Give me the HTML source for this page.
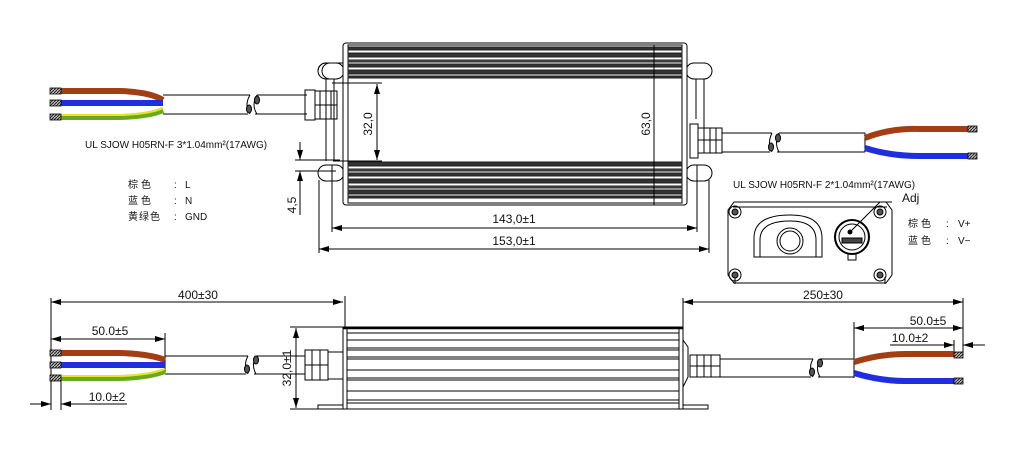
<!DOCTYPE html>
<html><head><meta charset="utf-8"><style>
html,body{margin:0;padding:0;background:#fff;}
svg{display:block;}
text{font-family:"Liberation Sans","Noto Sans CJK SC",sans-serif;fill:#111;}
.cn{font-family:"Noto Sans CJK SC","WenQuanYi Zen Hei",sans-serif;}
</style></head><body>
<svg width="1018" height="457" viewBox="0 0 1018 457" xmlns="http://www.w3.org/2000/svg">
<defs>
<pattern id="hatch" width="3" height="3" patternUnits="userSpaceOnUse"><rect width="3" height="3" fill="#bbb"/><path d="M0 3L3 0" stroke="#222" stroke-width="1"/></pattern>
<marker id="a" viewBox="0 0 10 6" refX="10" refY="3" markerWidth="10" markerHeight="6" orient="auto-start-reverse" markerUnits="userSpaceOnUse"><path d="M0 0L10 3L0 6z" fill="#000"/></marker>
</defs>
<g stroke="#000" fill="none" stroke-width="1">

<!-- ===== TOP VIEW BODY ===== -->
<path d="M330 63 h13 M330 63 a8 8 0 0 0 0 16 M330 79 v0 M318 71 a8 8 0 0 1 8 -8" />
<rect x="318" y="63" width="26" height="16" rx="8"/>
<rect x="318" y="165" width="26" height="16" rx="8"/>
<path d="M326 79 v82 M334 79 v82"/>
<rect x="686" y="63" width="26" height="16" rx="8"/>
<rect x="686" y="165" width="26" height="16" rx="8"/>
<path d="M704 79 v70 M696 79 v40"/>
<rect x="343" y="43" width="344" height="162" rx="3" fill="#fff"/>
<rect x="348" y="45" width="334" height="158"/>
<!-- fins top -->
<g stroke="#222">
<rect x="348" y="47" width="334" height="3" fill="#333"/>
<rect x="348" y="53" width="334" height="4" fill="#333"/>
<rect x="348" y="60" width="334" height="2" fill="#555"/>
<rect x="348" y="64" width="334" height="3" fill="#333"/>
<rect x="348" y="70" width="334" height="4" fill="#333"/>
<rect x="348" y="76" width="334" height="2" fill="#333"/>
<rect x="348" y="162" width="334" height="4" fill="#333"/>
<rect x="348" y="169" width="334" height="2" fill="#555"/>
<rect x="348" y="173" width="334" height="3" fill="#333"/>
<rect x="348" y="179" width="334" height="4" fill="#333"/>
<rect x="348" y="186" width="334" height="2" fill="#555"/>
<rect x="348" y="190" width="334" height="4" fill="#333"/>
<rect x="348" y="196" width="334" height="2" fill="#333"/>
</g>
<path d="M654 45 v160"/>
<!-- 32,0 dim -->
<path d="M332 83 H382 M333 161 H382"/>
<path d="M377 84 V160" marker-start="url(#a)" marker-end="url(#a)"/>
<!-- 4,5 dim -->
<path d="M295 160 H340 M295 171 H336"/>
<path d="M300 142 V160" marker-end="url(#a)"/>
<path d="M300 189 V171" marker-end="url(#a)"/>
<path d="M300 171 V215"/>
<!-- 143 / 153 -->
<path d="M332 165 V232 M697 165 V232 M319 180 V253 M709 180 V253"/>
<path d="M332 228 H697" marker-start="url(#a)" marker-end="url(#a)"/>
<path d="M319 249 H709" marker-start="url(#a)" marker-end="url(#a)"/>

<!-- left top cable -->
<path d="M163 95 H250 M257 95 H307 M163 114 H248 M255 114 H307"/>
<path d="M250 95 q-6 10 0 19 M257 95 q-6 10 0 19"/>
<ellipse cx="249" cy="109" rx="2.5" ry="4" fill="#555"/>
<ellipse cx="257" cy="100" rx="2.5" ry="4" fill="#555"/>
<rect x="305" y="90" width="10" height="30"/>
<rect x="315" y="91" width="22" height="28"/>
<path d="M320 91 v28 M326 91 v28 M331 91 v28 M315 105 h22"/>
<!-- right top cable/gland -->
<rect x="690" y="124" width="8" height="34"/>
<rect x="698" y="128" width="24" height="25"/>
<path d="M704 128 v25 M710 128 v25 M716 128 v25 M698 140 h24"/>
<path d="M722 133 H772 M779 133 H865 M722 152 H770 M777 152 H865 M865 133 V152"/>
<path d="M772 133 q-5 10 0 19 M779 133 q-5 10 0 19"/>
<ellipse cx="771" cy="147" rx="2.5" ry="4" fill="#555"/>
<ellipse cx="778" cy="138" rx="2.5" ry="4" fill="#555"/>
</g>

<!-- top wires -->
<g fill="none" stroke-linecap="butt">
<path d="M61 91 H120 Q150 92 163 100" stroke="#a33d14" stroke-width="6"/>
<path d="M61 103 H163" stroke="#1f2fe0" stroke-width="6"/>
<path d="M61 117 H120 Q150 116 163 110" stroke="#6aaa22" stroke-width="6"/>
<path d="M61 115 H120 Q150 114 163 108" stroke="#e8e820" stroke-width="2"/>
<path d="M865 138 Q890 128 920 129 H968" stroke="#a33d14" stroke-width="6"/>
<path d="M865 148 Q890 156 920 156 H968" stroke="#1f2fe0" stroke-width="6"/>
</g>
<g stroke="#000" stroke-width="0.8">
<rect x="50" y="88" width="11" height="6" fill="url(#hatch)"/>
<rect x="50" y="100" width="11" height="6" fill="url(#hatch)"/>
<rect x="50" y="114" width="11" height="6" fill="url(#hatch)"/>
<rect x="968" y="126" width="9" height="6" fill="url(#hatch)"/>
<rect x="968" y="153" width="9" height="6" fill="url(#hatch)"/>
</g>

<!-- end view box -->
<g stroke="#000" fill="none" stroke-width="1">
<path d="M734 202 H886 L892 210 V275 L886 283 H734 L728 275 V210 Z"/>
<path d="M733 207 H887 M735 284 V277 M885 284 V277"/>
<circle cx="735" cy="212" r="6"/><circle cx="735" cy="212" r="3" fill="#555"/>
<circle cx="880" cy="212" r="6"/><circle cx="880" cy="212" r="3" fill="#555"/>
<circle cx="735" cy="275" r="6"/><circle cx="735" cy="275" r="3" fill="#555"/>
<circle cx="880" cy="275" r="6"/><circle cx="880" cy="275" r="3" fill="#555"/>
<path d="M754 257 V238 Q754 215 790 215 Q822 215 822 238 V257 Z"/>
<path d="M760 257 V240 Q760 221 790 221 Q816 221 816 240 V257"/>
<circle cx="790" cy="241" r="13"/><circle cx="790" cy="241" r="10"/>
<circle cx="852" cy="237" r="17" stroke-width="2"/><circle cx="852" cy="237" r="13"/>
<rect x="842" y="238" width="20" height="5" fill="#444"/>
<circle cx="850" cy="232" r="2" fill="#000"/>
<path d="M848 254 h8 v6 h-8 z"/>
<path d="M850 232 L880 202 H892"/>
</g>

<!-- ===== BOTTOM VIEW ===== -->
<g stroke="#000" fill="none" stroke-width="1">
<rect x="343" y="327" width="340" height="82" fill="#fff"/>
<path d="M343 328 H683" stroke-width="2.5"/>
<path d="M347 327 V409 M679 327 V409"/>
<path d="M347 333 H679 M347 340 H679 M347 348 H679 M347 350 H679 M347 357 H679 M347 359 H679 M347 370 H679 M347 378 H679 M347 380 H679 M347 391 H679 M347 400 H679 M347 403 H679"/>
<path d="M318 409 H343 V405 H318 Z M683 405 H708 V409 H683"/>
<rect x="305" y="350" width="23" height="30"/>
<rect x="328" y="352" width="15" height="27"/>
<path d="M312 350 v30 M320 350 v30 M305 365 h23"/>
<path d="M683 340 L688 347 V377 L683 387"/>
<rect x="690" y="355" width="30" height="22"/>
<path d="M697 355 v22 M704 355 v22 M711 355 v22 M690 366 h30"/>
<!-- left cable -->
<path d="M165 356 H248 M256 356 H305 M165 374 H246 M254 374 H305"/>
<path d="M248 356 q-5 9 0 18 M256 356 q-5 9 0 18"/>
<ellipse cx="247" cy="369" rx="2.5" ry="4" fill="#555"/>
<ellipse cx="256" cy="360" rx="2.5" ry="4" fill="#555"/>
<!-- right cable -->
<path d="M720 359 H813 M820 359 H854 M720 377 H811 M818 377 H854"/>
<path d="M813 359 q-5 9 0 18 M820 359 q-5 9 0 18"/>
<ellipse cx="812" cy="372" rx="2.5" ry="4" fill="#555"/>
<ellipse cx="820" cy="363" rx="2.5" ry="4" fill="#555"/>
<!-- dims left -->
<path d="M51 298 V410 M61 375 V410 M165 333 V374 M345 296 V327"/>
<path d="M51 302 H343" marker-start="url(#a)" marker-end="url(#a)"/>
<path d="M51 339 H165" marker-start="url(#a)" marker-end="url(#a)"/>
<path d="M30 404 H51" marker-end="url(#a)"/>
<path d="M127 404 H61" marker-end="url(#a)"/>
<path d="M290 327 H343 M290 409 H318"/>
<path d="M296 328 V408" marker-start="url(#a)" marker-end="url(#a)"/>
<!-- dims right -->
<path d="M683 298 V327 M963 298 V355 M954 340 V357 M854 322 V378"/>
<path d="M683 302 H963" marker-start="url(#a)" marker-end="url(#a)"/>
<path d="M854 328 H963" marker-start="url(#a)" marker-end="url(#a)"/>
<path d="M890 345 H954" marker-end="url(#a)"/>
<path d="M985 345 H963" marker-end="url(#a)"/>
</g>
<g fill="none">
<path d="M61 353 H120 Q150 354 165 360" stroke="#a33d14" stroke-width="6"/>
<path d="M61 365 H165" stroke="#1f2fe0" stroke-width="6"/>
<path d="M61 378 H120 Q150 377 165 371" stroke="#6aaa22" stroke-width="6"/>
<path d="M61 376 H120 Q150 375 165 369" stroke="#e8e820" stroke-width="2"/>
<path d="M854 362 Q880 354 905 354 H954" stroke="#a33d14" stroke-width="6"/>
<path d="M854 373 Q880 381 905 381 H954" stroke="#1f2fe0" stroke-width="6"/>
</g>
<g stroke="#000" stroke-width="0.8">
<rect x="50" y="350" width="11" height="6" fill="url(#hatch)"/>
<rect x="50" y="362" width="11" height="6" fill="url(#hatch)"/>
<rect x="50" y="375" width="11" height="6" fill="url(#hatch)"/>
<rect x="954" y="352" width="9" height="6" fill="url(#hatch)"/>
<rect x="954" y="378" width="9" height="6" fill="url(#hatch)"/>
</g>

<!-- TEXT -->
<text x="85" y="148" font-size="10">UL SJOW H05RN-F 3*1.04mm²(17AWG)</text>
<text x="733" y="188" font-size="10">UL SJOW H05RN-F 2*1.04mm²(17AWG)</text>
<g font-size="10">
<text class="cn" x="128" y="188" letter-spacing="3">棕色</text><text x="174" y="188">:</text><text x="185" y="188">L</text>
<text class="cn" x="128" y="204" letter-spacing="3">蓝色</text><text x="174" y="204">:</text><text x="185" y="204">N</text>
<text class="cn" x="128" y="220" letter-spacing="1">黄绿色</text><text x="174" y="220">:</text><text x="185" y="220">GND</text>
<text class="cn" x="908" y="227" letter-spacing="3">棕色</text><text x="946" y="227">:</text><text x="958" y="227">V+</text>
<text class="cn" x="908" y="244" letter-spacing="3">蓝色</text><text x="946" y="244">:</text><text x="958" y="244">V−</text>
</g>
<text x="902" y="202" font-size="12">Adj</text>
<g font-size="12">
<text x="514" y="223" text-anchor="middle">143,0±1</text>
<text x="514" y="245" text-anchor="middle">153,0±1</text>
<text transform="translate(372 124) rotate(-90)" text-anchor="middle">32,0</text>
<text transform="translate(650 124) rotate(-90)" text-anchor="middle">63,0</text>
<text transform="translate(296 205) rotate(-90)" text-anchor="middle">4,5</text>
<text x="198" y="299" text-anchor="middle">400±30</text>
<text x="110" y="335" text-anchor="middle">50.0±5</text>
<text x="107" y="401" text-anchor="middle">10.0±2</text>
<text transform="translate(291 368) rotate(-90)" text-anchor="middle">32,0±1</text>
<text x="823" y="299" text-anchor="middle">250±30</text>
<text x="928" y="325" text-anchor="middle">50.0±5</text>
<text x="910" y="342" text-anchor="middle">10.0±2</text>
</g>
</svg>
</body></html>
